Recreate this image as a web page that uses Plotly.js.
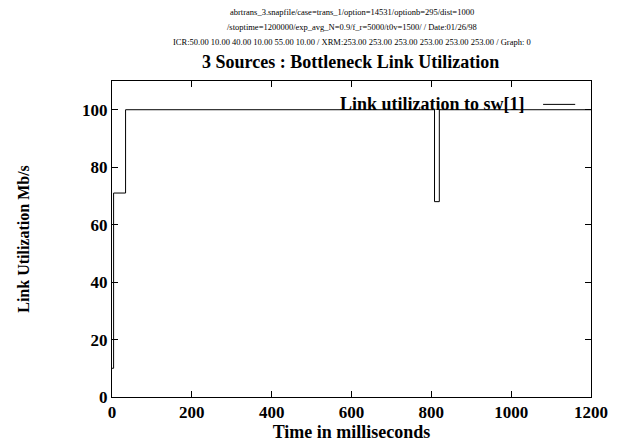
<!DOCTYPE html>
<html>
<head>
<meta charset="utf-8">
<script src="https://cdn.plot.ly/plotly-3.0.1.min.js"></script>
<style>html,body{margin:0;padding:0;background:#fff;}#chart{width:623px;height:443px;}</style>
</head>
<body>
<div id="chart"></div>
<script>
var timeMs = [0, 4, 34, 808, 820, 1200];
var utilization = [10, 71, 100, 68, 100, 100];
var seriesName = 'Link utilization to sw[1]';
var xTicks = [0, 200, 400, 600, 800, 1000, 1200];
var yTicks = [0, 20, 40, 60, 80, 100];
var headerLines = [
  'abrtrans_3.snapfile/case=trans_1/option=14531/optionb=295/dist=1000',
  '/stoptime=1200000/exp_avg_N=0.9/f_r=5000/t0v=1500/ / Date:01/26/98',
  'ICR:50.00 10.00 40.00 10.00 55.00 10.00 / XRM:253.00 253.00 253.00 253.00 253.00 253.00 / Graph: 0'
];

var serif = 'Liberation Serif, Times New Roman, serif';
var trace = {
  x: timeMs, y: utilization, mode: 'lines', name: seriesName,
  line: {shape: 'hv', color: '#000', width: 1}
};

var annotations = [];
var headerY = [1.218, 1.171, 1.123];
headerLines.forEach(function (t, i) {
  annotations.push({text: t, xref: 'paper', yref: 'paper', x: 0.5, y: headerY[i],
    showarrow: false, xanchor: 'center', yanchor: 'middle',
    font: {family: serif, size: 8.5, color: '#000'}});
});
annotations.push({text: '<b>3 Sources : Bottleneck Link Utilization</b>', xref: 'paper', yref: 'paper',
  x: 0.497, y: 1.060, showarrow: false, xanchor: 'center', yanchor: 'middle',
  font: {family: serif, size: 18, color: '#000'}});
annotations.push({text: '<b>' + seriesName + '</b>', xref: 'paper', yref: 'paper',
  x: 0.867, y: 0.926, showarrow: false, xanchor: 'right', yanchor: 'middle',
  font: {family: serif, size: 18, color: '#000'}});

var layout = {
  width: 623, height: 443,
  margin: {l: 112, r: 32, t: 81, b: 46},
  paper_bgcolor: '#fff', plot_bgcolor: '#fff',
  showlegend: false,
  font: {family: serif, color: '#000'},
  xaxis: {
    range: [0, 1200], tickvals: xTicks, ticktext: xTicks.map(String),
    ticks: 'inside', ticklen: 6, tickcolor: '#000', mirror: 'allticks',
    showline: true, linecolor: '#000', linewidth: 1, showgrid: false, zeroline: false,
    tickfont: {family: serif, size: 17, color: '#000', weight: 'bold'},
    title: {text: '<b>Time in milliseconds</b>', font: {family: serif, size: 18, color: '#000'}, standoff: 0}
  },
  yaxis: {
    range: [0, 110], tickvals: yTicks, ticktext: yTicks.map(String),
    ticks: 'inside', ticklen: 6, tickcolor: '#000', mirror: 'allticks',
    showline: true, linecolor: '#000', linewidth: 1, showgrid: false, zeroline: false,
    tickfont: {family: serif, size: 17, color: '#000', weight: 'bold'},
    title: {text: '<b>Link Utilization Mb/s</b>', font: {family: serif, size: 16, color: '#000'}, standoff: 48}
  },
  annotations: annotations,
  shapes: [{type: 'line', xref: 'paper', yref: 'paper', x0: 0.900, x1: 0.967, y0: 0.926, y1: 0.926,
    line: {color: '#000', width: 1}}]
};

Plotly.newPlot('chart', [trace], layout, {displayModeBar: false, staticPlot: true});
</script>
</body>
</html>
